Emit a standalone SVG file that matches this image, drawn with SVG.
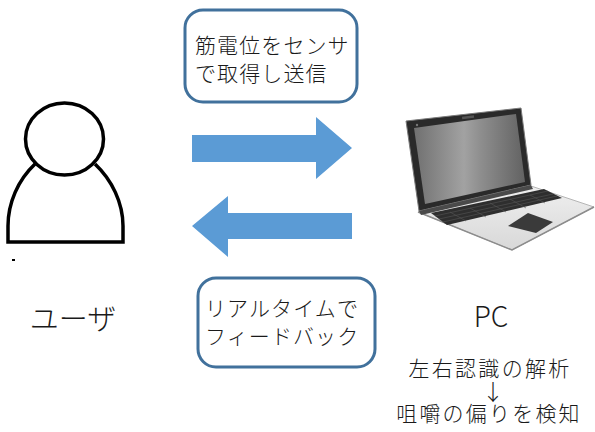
<svg xmlns="http://www.w3.org/2000/svg" width="595" height="432" viewBox="0 0 595 432">
  <style>
    .jp { font-family: "Noto Sans CJK JP", "Noto Sans", sans-serif; font-weight: 300; fill: #1a1a1a; }
    .box { fill: #ffffff; stroke: #41719c; stroke-width: 3; }
    .arrow { fill: #5b9bd5; }
    .outline { fill: none; stroke: #000000; stroke-width: 3.5; }
    .keys { stroke: #555555; stroke-width: 0.6; fill: none; }
  </style>
  <defs>
    <linearGradient id="screenGrad" x1="0" y1="0" x2="1" y2="0">
      <stop offset="0" stop-color="#707070"/>
      <stop offset="0.45" stop-color="#a2a2a2"/>
      <stop offset="0.6" stop-color="#8e8e8e"/>
      <stop offset="1" stop-color="#626262"/>
    </linearGradient>
    <linearGradient id="baseGrad" x1="0" y1="0" x2="0" y2="1">
      <stop offset="0" stop-color="#efefef"/>
      <stop offset="1" stop-color="#d8d8d8"/>
    </linearGradient>
  </defs>

  <!-- user -->
  <g id="user">
    <path class="outline" d="M35,164 C18,180 8,203 8,226 L8,242 L123,242 L123,226 C123,203 112,180 95,164"/>
    <ellipse class="outline" cx="64.5" cy="139" rx="39" ry="36" fill="#ffffff"/>
    <rect x="12" y="259" width="3" height="2" fill="#000000"/>
    <text class="jp" x="73" y="330" font-size="29" text-anchor="middle">ユーザ</text>
  </g>

  <!-- laptop -->
  <g id="pc">
    <polygon points="418,212 531,186 594,207 512,250" fill="url(#baseGrad)" stroke="#b5b5b5" stroke-width="1"/>
    <polyline points="418,212 512,250 594,207" fill="none" stroke="#8c8c8c" stroke-width="1.5"/>
    <polygon points="431,213 544,189 562,198 447,225" fill="#2e2e2e"/>
    <path class="keys" d="M435,216 L548,191 M439,219 L553,194 M443,222 L557,196 M450,212 L466,221 M470,208 L486,217 M490,203 L506,212 M510,199 L526,208 M530,195 L545,203"/>
    <polygon points="508,226 528,213 553,222 536,233" fill="#3a3a3a"/>
    <polygon points="406,121 521,108 531,185 419,211" fill="#2a2a2a" stroke="#7a7a7a" stroke-width="1"/>
    <polygon points="414,128 516,114 525,182 425,204" fill="url(#screenGrad)"/>
    <polygon points="419,211 531,185 533,189 421,215" fill="#4a4a4a"/>
    <circle cx="417" cy="125" r="1.2" fill="#777777"/>
    <rect x="462" y="116" width="12" height="2.5" fill="#555555" transform="rotate(-7 468 117)"/>
    <text class="jp" x="491" y="327" font-size="28" text-anchor="middle">PC</text>
    <text class="jp" x="490" y="376" font-size="21" letter-spacing="2.3" text-anchor="middle">左右認識の解析</text>
    <text class="jp" x="493" y="400" font-size="22" text-anchor="middle">↓</text>
    <text class="jp" x="489" y="421" font-size="21" letter-spacing="2.2" text-anchor="middle">咀嚼の偏りを検知</text>
  </g>

  <!-- labels -->
  <g id="label-send">
    <rect class="box" x="185" y="10" width="172" height="92" rx="18"/>
    <text class="jp" x="195" y="53" font-size="21" letter-spacing="1.1">筋電位をセンサ</text>
    <text class="jp" x="195" y="81" font-size="21" letter-spacing="1.1">で取得し送信</text>
  </g>
  <g id="label-feedback">
    <rect class="box" x="198" y="278" width="177" height="89" rx="18"/>
    <text class="jp" x="205" y="316" font-size="21" letter-spacing="1.1">リアルタイムで</text>
    <text class="jp" x="205" y="344" font-size="21" letter-spacing="1.1">フィードバック</text>
  </g>

  <!-- connectors -->
  <g id="connectors">
    <polygon class="arrow" points="192,135 316,135 316,117 352,148 316,179 316,162 192,162"/>
    <polygon class="arrow" points="352,213 228,213 228,196 192,226 228,257 228,239 352,239"/>
  </g>
</svg>
